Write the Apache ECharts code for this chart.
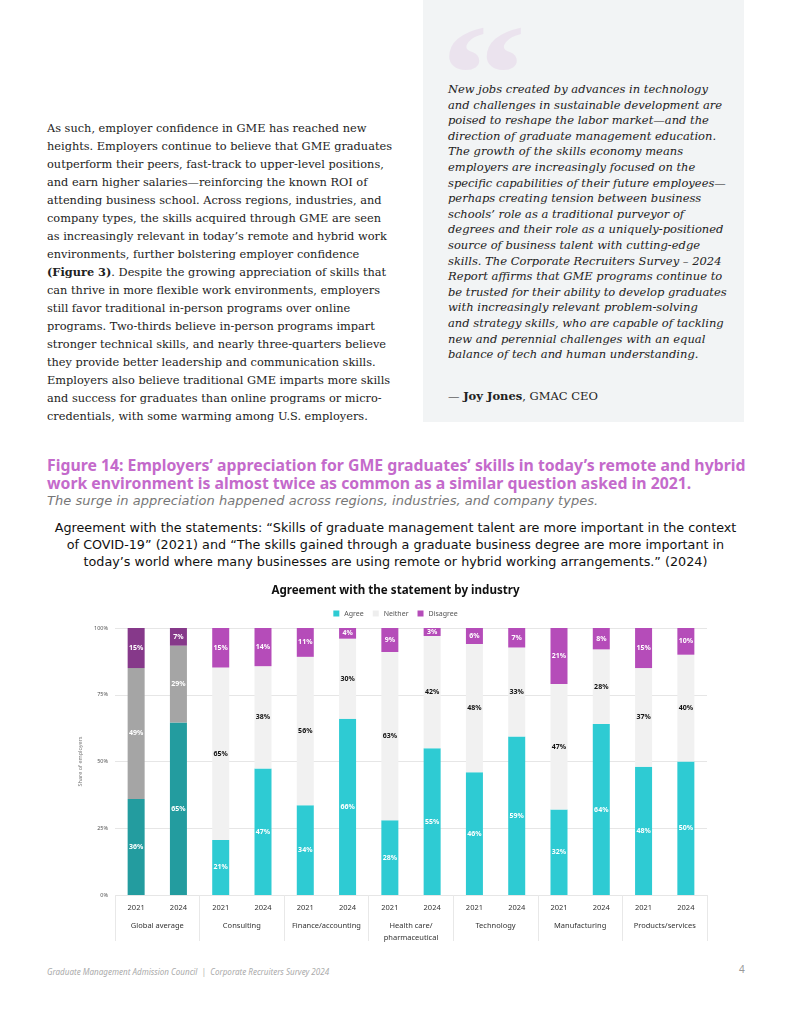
<!DOCTYPE html>
<html><head><meta charset="utf-8">
<script src="https://cdn.jsdelivr.net/npm/echarts@6/dist/echarts.min.js"></script>
<style>
html,body{margin:0;padding:0;background:#fff;}
body{width:791px;height:1024px;position:relative;overflow:hidden;}
.abs{position:absolute;white-space:nowrap;}
#body{left:47px;top:119px;font-family:"DejaVu Serif",serif;font-size:11.35px;line-height:18px;color:#222;}
#quotebox{left:423px;top:0;width:321px;height:422px;background:#f2f4f5;}
#qmark{left:441px;top:4px;font-family:"Liberation Serif",serif;font-weight:bold;font-size:140px;color:#ebe3ee;line-height:1;transform:scaleX(1.22);transform-origin:0 0;}
#quote{left:448px;top:82px;font-family:"DejaVu Serif",serif;font-style:italic;font-size:11.5px;line-height:15.6px;color:#222;}
#sig{left:448px;top:389px;font-family:"DejaVu Serif",serif;font-size:11.5px;color:#222;}
#ftitle{left:47px;top:456px;font-family:"Noto Sans",sans-serif;font-weight:bold;font-size:15.8px;line-height:18px;color:#c46acb;}
#fsub{left:47px;top:493px;font-family:"DejaVu Sans",sans-serif;font-style:italic;font-size:13px;letter-spacing:0.05px;color:#777;}
#stmt{left:0;width:791px;top:519px;text-align:center;font-family:"DejaVu Sans",sans-serif;font-size:12.75px;line-height:17px;color:#111;}
#chart{left:0;top:575px;width:791px;height:375px;}
#foot{left:47px;top:966px;font-family:"Noto Sans",sans-serif;font-style:italic;font-size:8.05px;color:#aaa;}
#pg{left:739px;top:962px;font-family:"Noto Sans",sans-serif;font-size:10px;color:#999;}
</style></head>
<body>
<div class="abs" id="quotebox"></div>
<div class="abs" id="qmark">&#8220;</div>
<div class="abs" id="body">As such, employer confidence in GME has reached new<br>heights. Employers continue to believe that GME graduates<br>outperform their peers, fast-track to upper-level positions,<br>and earn higher salaries—reinforcing the known ROI of<br>attending business school. Across regions, industries, and<br>company types, the skills acquired through GME are seen<br>as increasingly relevant in today’s remote and hybrid work<br>environments, further bolstering employer confidence<br><b>(Figure 3)</b>. Despite the growing appreciation of skills that<br>can thrive in more flexible work environments, employers<br>still favor traditional in-person programs over online<br>programs. Two-thirds believe in-person programs impart<br>stronger technical skills, and nearly three-quarters believe<br>they provide better leadership and communication skills.<br>Employers also believe traditional GME imparts more skills<br>and success for graduates than online programs or micro-<br>credentials, with some warming among U.S. employers.</div>
<div class="abs" id="quote">New jobs created by advances in technology<br>and challenges in sustainable development are<br>poised to reshape the labor market—and the<br>direction of graduate management education.<br>The growth of the skills economy means<br>employers are increasingly focused on the<br>specific capabilities of their future employees—<br>perhaps creating tension between business<br>schools’ role as a traditional purveyor of<br>degrees and their role as a uniquely-positioned<br>source of business talent with cutting-edge<br>skills. The Corporate Recruiters Survey – 2024<br>Report affirms that GME programs continue to<br>be trusted for their ability to develop graduates<br>with increasingly relevant problem-solving<br>and strategy skills, who are capable of tackling<br>new and perennial challenges with an equal<br>balance of tech and human understanding.</div>
<div class="abs" id="sig">— <b>Joy Jones</b>, GMAC CEO</div>
<div class="abs" id="ftitle">Figure 14: Employers’ appreciation for GME graduates’ skills in today’s remote and hybrid<br>work environment is almost twice as common as a similar question asked in 2021.</div>
<div class="abs" id="fsub">The surge in appreciation happened across regions, industries, and company types.</div>
<div class="abs" id="stmt">Agreement with the statements: “Skills of graduate management talent are more important in the context<br>of COVID-19” (2021) and “The skills gained through a graduate business degree are more important in<br>today’s world where many businesses are using remote or hybrid working arrangements.” (2024)</div>
<div class="abs" id="chart"></div>
<div class="abs" id="foot">Graduate Management Admission Council &nbsp;|&nbsp; Corporate Recruiters Survey 2024</div>
<div class="abs" id="pg">4</div>
<script>
const years = ['2021','2024','2021','2024','2021','2024','2021','2024','2021','2024','2021','2024','2021','2024'];
const groups = ['Global average','Consulting','Finance/accounting','Health care/\npharmaceutical','Technology','Manufacturing','Products/services'];
const agree    = [36,64.6,20.6,47.4,33.6,66,28,55,46,59.4,32,64,48,50];
const neither  = [49,28.8,64.6,38.3,55.6,30,63,42,48,33.3,47,28,37,40];
const disagree = [15,6.6,14.8,14.3,10.8,4,9,3,6,7.3,21,8,15,10];
const yTicks = [0,25,50,75,100];

const FONT = '"Noto Sans", sans-serif';
const colors = {
  agree:['#239c9f','#2ecbd3'],
  neither:['#a5a5a5','#f1f1f1'],
  disagree:['#86398a','#b54cb9']
};
const isGlobal = i => i < 2;
function mk(arr, key, labelColorFn){
  return arr.map((v,i)=>({
    value:v,
    itemStyle:{color: colors[key][isGlobal(i)?0:1]},
    label:{color: labelColorFn(i)}
  }));
}
const lbl = {show:true, position:'inside', formatter:p => Math.round(p.value)+'%', fontSize:7, fontWeight:'bold', fontFamily:FONT};
const chart = echarts.init(document.getElementById('chart'), null, {renderer:'canvas'});
chart.setOption({
  animation:false,
  textStyle:{fontFamily:FONT},
  title:{text:'Agreement with the statement by industry', left:'center', top:5,
    textStyle:{fontSize:11.6, fontWeight:'bold', color:'#111', fontFamily:FONT}},
  legend:{top:30, left:'center', itemWidth:6, itemHeight:6, itemGap:9, icon:'rect',
    textStyle:{fontSize:7, color:'#555', fontFamily:FONT},
    data:[{name:'Agree',itemStyle:{color:'#2ecbd3'}},{name:'Neither',itemStyle:{color:'#eeeeee'}},{name:'Disagree',itemStyle:{color:'#b54cb9'}}]},
  grid:{left:115, right:84, top:53, bottom:55},
  xAxis:[
    {type:'category', data:years, axisLine:{show:false}, axisTick:{show:false},
      axisLabel:{margin:9, fontSize:7.5, color:'#333', fontFamily:FONT}},
    {type:'category', data:groups, position:'bottom', axisLine:{show:false, onZero:false},
      axisTick:{show:true, length:46, interval:0, lineStyle:{color:'#e8e8e8', width:1}},
      axisLabel:{margin:25, fontSize:7.5, color:'#333', lineHeight:12, interval:0, fontFamily:FONT, verticalAlign:'top'}}
  ],
  yAxis:{type:'value', min:yTicks[0], max:yTicks[yTicks.length-1], interval:25,
    name:'Share of employers', nameLocation:'middle', nameGap:21, nameRotate:90,
    nameTextStyle:{fontSize:5.5, color:'#777', fontFamily:FONT},
    axisLabel:{formatter:'{value}%', fontSize:5.5, color:'#555', margin:7, fontFamily:FONT},
    axisLine:{show:false}, axisTick:{show:false},
    splitLine:{lineStyle:{color:'#e6e6e6', width:1}}},
  series:[
    {name:'Agree', type:'bar', stack:'s', barWidth:17, data:mk(agree,'agree',()=> '#fff'), label:lbl},
    {name:'Neither', type:'bar', stack:'s', barWidth:17, data:mk(neither,'neither',i=> isGlobal(i)?'#fff':'#111'), label:lbl},
    {name:'Disagree', type:'bar', stack:'s', barWidth:17, data:mk(disagree,'disagree',()=> '#fff'), label:lbl}
  ]
});
</script>
</body></html>
